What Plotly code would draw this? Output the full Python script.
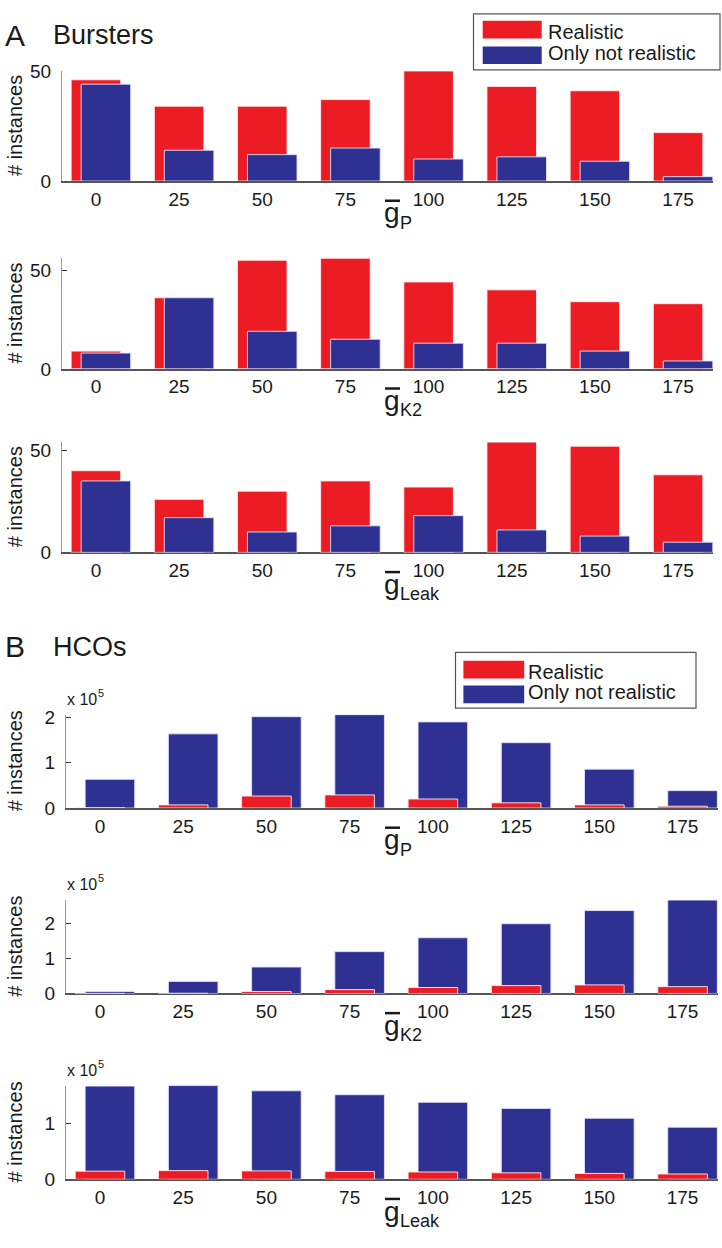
import plotly.graph_objects as go

W, H = 722, 1248

# ---------------- data ----------------
g_values = [0, 25, 50, 75, 100, 125, 150, 175]
tick_labels = ["0", "25", "50", "75", "100", "125", "150", "175"]

bursters_gP_realistic = [46, 34, 34, 37, 50, 43, 41, 22]
bursters_gP_not_realistic = [44, 14, 12, 15, 10, 11, 9, 2]
bursters_gK2_realistic = [9, 36, 55, 56, 44, 40, 34, 33]
bursters_gK2_not_realistic = [8, 36, 19, 15, 13, 13, 9, 4]
bursters_gLeak_realistic = [40, 26, 30, 35, 32, 54, 52, 38]
bursters_gLeak_not_realistic = [35, 17, 10, 13, 18, 11, 8, 5]

hco_gP_realistic = [300, 7000, 26500, 29000, 20000, 11500, 7000, 4000]
hco_gP_not_realistic = [63500, 164000, 202000, 206500, 190500, 144500, 86000, 38500]
hco_gK2_realistic = [200, 500, 5500, 11000, 17000, 22500, 24500, 19500]
hco_gK2_not_realistic = [5500, 34500, 75500, 119500, 159000, 199000, 236500, 266500]
hco_gLeak_realistic = [14500, 15500, 15000, 14000, 13000, 11500, 10500, 9500]
hco_gLeak_not_realistic = [166500, 167300, 158000, 151000, 137500, 126500, 109000, 93000]

burster_yticks = [0, 50]
burster_yticktext = ["0", "50"]
hco_yticks = [0, 100000, 200000]
hco_yticktext = ["0", "1", "2"]

legend_labels = ["Realistic", "Only not realistic"]

# ---------------- style ----------------
RED = "#EC1C24"
BLUE = "#2E3192"
FONT = "Liberation Sans, Arial, Helvetica, sans-serif"
TXT = "#1a1a1a"
MID = 0.3465  # baseline offset below text-box centre, in em


def fx(px):
    return px / W


def fy(py):
    return 1 - py / H


def text_at(text, x_px, baseline_px, size, xanchor="left", angle=0):
    return dict(text=text, x=fx(x_px), y=fy(baseline_px - MID * size),
                xref="paper", yref="paper", xanchor=xanchor, yanchor="middle",
                textangle=angle, showarrow=False, borderpad=0,
                font=dict(size=size, family=FONT, color=TXT))


panels = [
    # realistic, not realistic, subscript, yticks, yticktext, top, bottom, left, right, red_on_top
    (bursters_gP_realistic, bursters_gP_not_realistic, "P", burster_yticks, burster_yticktext, 62, 174, 62, 713, False),
    (bursters_gK2_realistic, bursters_gK2_not_realistic, "K2", burster_yticks, burster_yticktext, 252.5, 365, 62, 713, False),
    (bursters_gLeak_realistic, bursters_gLeak_not_realistic, "Leak", burster_yticks, burster_yticktext, 439.5, 551.7, 62, 713, False),
    (hco_gP_realistic, hco_gP_not_realistic, "P", hco_yticks, hco_yticktext, 716.7, 811.7, 66, 717.5, True),
    (hco_gK2_realistic, hco_gK2_not_realistic, "K2", hco_yticks, hco_yticktext, 905.3, 1000.3, 66, 717.5, True),
    (hco_gLeak_realistic, hco_gLeak_not_realistic, "Leak", hco_yticks, hco_yticktext, 1094, 1189.3, 66, 717.5, True),
]

BAR_W = 14.9
SHIFT = 3.0

fig = go.Figure()
layout = dict(
    width=W, height=H, autosize=False,
    margin=dict(l=0, r=0, t=0, b=0),
    paper_bgcolor="white", plot_bgcolor="white",
    barmode="overlay", showlegend=False,
    font=dict(family=FONT, color=TXT, size=19),
)
annotations = []
shapes = []

for i, (real, notreal, sub, yt, ytt, top, bot, left, right, red_top) in enumerate(panels, start=1):
    xa = "x" if i == 1 else f"x{i}"
    ya = "y" if i == 1 else f"y{i}"
    red = go.Bar(x=g_values, y=real, xaxis=xa, yaxis=ya, width=BAR_W, offset=-BAR_W / 2,
                 marker=dict(color=RED, line=dict(color="rgba(255,235,240,0.9)", width=1)),
                 name=legend_labels[0], showlegend=False)
    blue = go.Bar(x=g_values, y=notreal, xaxis=xa, yaxis=ya, width=BAR_W, offset=-BAR_W / 2 + SHIFT,
                  marker=dict(color=BLUE, line=dict(color="rgba(225,225,255,0.9)", width=1)),
                  name=legend_labels[1], showlegend=False)
    if red_top:
        fig.add_trace(blue)
        fig.add_trace(red)
    else:
        fig.add_trace(red)
        fig.add_trace(blue)

    ymax = max(max(real), max(notreal))
    layout["xaxis" if i == 1 else f"xaxis{i}"] = dict(
        domain=[fx(left), fx(right)], anchor=ya, range=[-10.2, 185.5],
        tickmode="array", tickvals=g_values, ticktext=tick_labels, ticks="",
        showline=True, linecolor="#555555", linewidth=1.5, layer="below traces",
        showgrid=False, zeroline=False, fixedrange=True,
        tickfont=dict(size=19, family=FONT, color=TXT), ticklabelstandoff=0,
    )
    layout["yaxis" if i == 1 else f"yaxis{i}"] = dict(
        domain=[fy(bot), fy(top)], anchor=xa, range=[0, ymax],
        tickmode="array", tickvals=yt, ticktext=ytt, ticks="inside", ticklen=5,
        tickcolor="#333333", tickwidth=1,
        showline=True, linecolor="#9a9a9a", linewidth=1,
        showgrid=False, zeroline=False, fixedrange=True,
        tickfont=dict(size=19, family=FONT, color=TXT), ticklabelstandoff=6,
    )

    # y-axis title
    annotations.append(dict(
        text="# instances", x=fx(15), y=fy((top + bot) / 2), xref="paper", yref="paper",
        xanchor="center", yanchor="middle", textangle=-90, showarrow=False,
        font=dict(size=20, family=FONT, color=TXT)))

    # x-axis label: g with an overbar and a subscript
    annotations.append(text_at("g", 383, bot + 42, 28))
    annotations.append(text_at(sub, 399, bot + 48.5, 18))
    shapes.append(dict(type="line", xref="paper", yref="paper",
                       x0=fx(385), x1=fx(400), y0=fy(bot + 20), y1=fy(bot + 20),
                       line=dict(color=TXT, width=2.5)))

    if i >= 4:
        annotations.append(text_at("x 10", left, top - 10, 16))
        annotations.append(text_at("5", left + 31.5, top - 18.5, 11))

# panel titles
for letter, name, base in [("A", "Bursters", 36), ("B", "HCOs", 658)]:
    annotations.append(text_at(letter, 4, base, 30))
    annotations.append(text_at(name, 52, base - 1, 27))

# manual legends (box, long swatches, labels)
for (bx0, bx1, by0, by1, sx0, sx1, r_y0, r_y1, b_y0, b_y1, tx) in [
    (473.5, 720, 4, 61, 482.7, 541.7, 11, 29, 37, 55, 547),
    (455.5, 696, 653.3, 710, 463.4, 524.2, 662, 680, 687, 705, 527),
]:
    shapes.append(dict(type="rect", xref="paper", yref="paper",
                       x0=fx(bx0), x1=fx(bx1), y0=fy(by0), y1=fy(by1),
                       line=dict(color="#555555", width=1.2), fillcolor="white"))
    shapes.append(dict(type="rect", xref="paper", yref="paper",
                       x0=fx(sx0), x1=fx(sx1), y0=fy(r_y0), y1=fy(r_y1),
                       line=dict(width=0), fillcolor=RED))
    shapes.append(dict(type="rect", xref="paper", yref="paper",
                       x0=fx(sx0), x1=fx(sx1), y0=fy(b_y0), y1=fy(b_y1),
                       line=dict(width=0), fillcolor=BLUE))
    annotations.append(text_at(legend_labels[0], tx, r_y1, 20))
    annotations.append(text_at(legend_labels[1], tx, b_y1 - 4, 20))

layout["annotations"] = annotations
layout["shapes"] = shapes
fig.update_layout(**layout)
fig.write_html("out.html", config={"displayModeBar": False},
               post_script="document.body.style.margin='0px';")
